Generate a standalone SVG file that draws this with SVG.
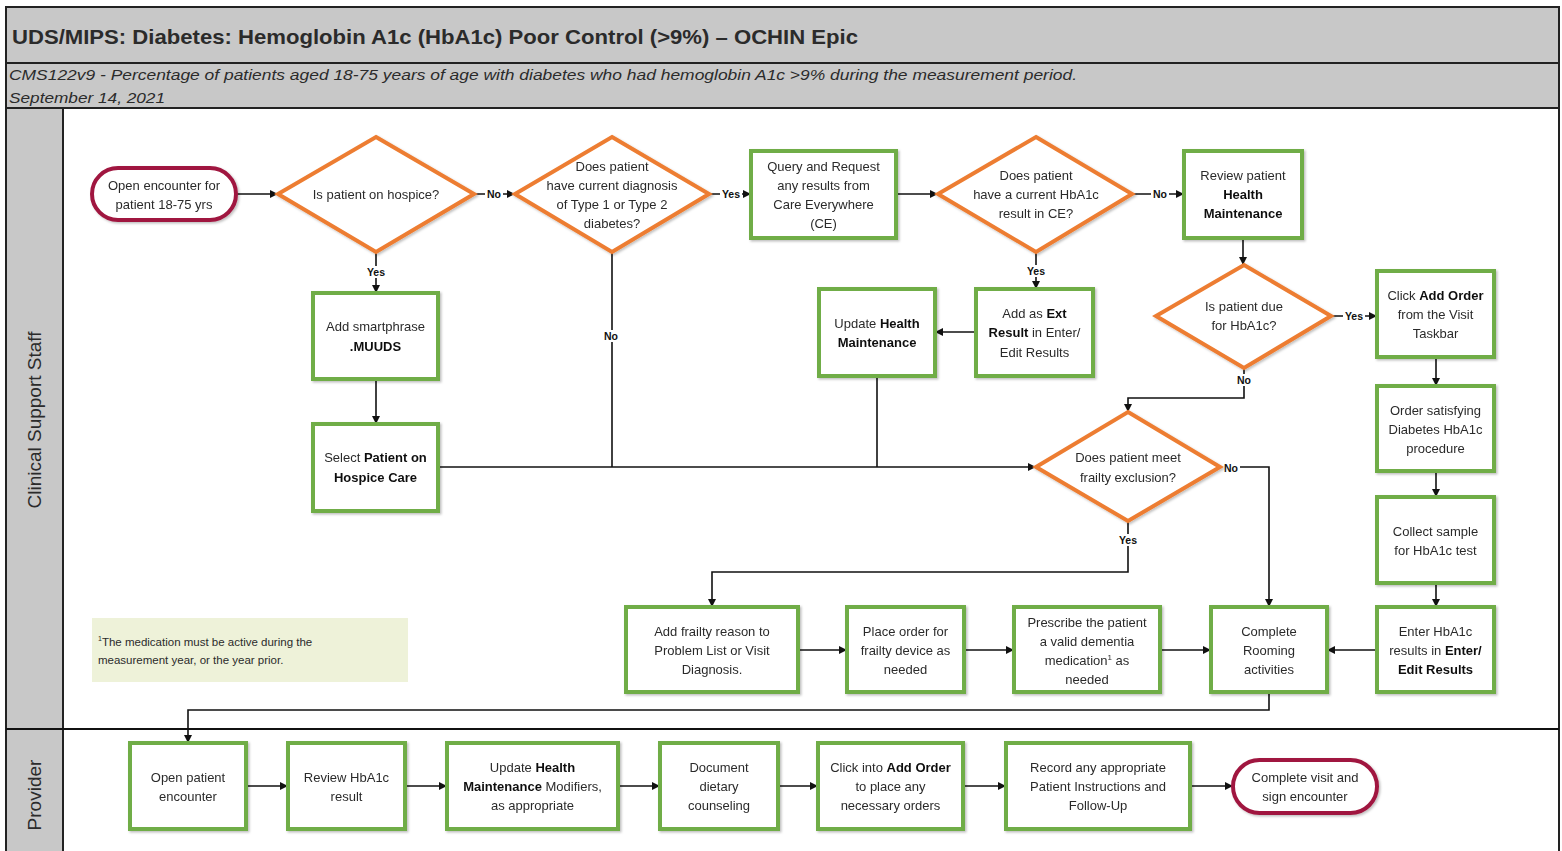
<svg xmlns="http://www.w3.org/2000/svg" width="1562" height="851" viewBox="0 0 1562 851">
<style>
text{font-family:"Liberation Sans",Arial,sans-serif;fill:#2b2b2b}
.t{font-size:13px;text-anchor:middle}
.b{font-weight:bold;fill:#111}
.box{fill:#fff;stroke:#70ad47;stroke-width:4}
.dia{fill:#fff;stroke:#ed7d31;stroke-width:4;stroke-linejoin:miter}
.term{fill:#fff;stroke:#a0173f;stroke-width:4}
.c{fill:none;stroke:#111;stroke-width:1.6}
.lbl{font-size:10.5px;font-weight:bold;text-anchor:middle;fill:#111}
.lb{fill:#fff}
.lane{fill:#c8c8c8;stroke:#222;stroke-width:2}
</style>
<defs>
<marker id="ah" viewBox="0 0 10 10" refX="10" refY="5" markerWidth="8" markerHeight="8" markerUnits="userSpaceOnUse" orient="auto">
<path d="M0,0 L10,5 L0,10 z" fill="#111"/>
</marker>
<filter id="sh" x="-10%" y="-10%" width="125%" height="125%">
<feDropShadow dx="1.5" dy="1.5" stdDeviation="1.2" flood-color="#000" flood-opacity="0.25"/>
</filter>
</defs>
<rect width="1562" height="851" fill="#fff"/>
<g id="frame">
<rect x="6" y="7" width="1553" height="56" class="lane"/>
<rect x="6" y="63" width="1553" height="45" class="lane"/>
<rect x="6" y="108" width="1553" height="750" fill="#fff" stroke="#222" stroke-width="2"/>
<rect x="6" y="108" width="57" height="750" class="lane"/>
<line x1="6" y1="729" x2="1559" y2="729" stroke="#111" stroke-width="2"/>
<text x="12" y="44" font-size="21" font-weight="bold" fill="#111" textLength="846" lengthAdjust="spacingAndGlyphs">UDS/MIPS: Diabetes: Hemoglobin A1c (HbA1c) Poor Control (&gt;9%) – OCHIN Epic</text>
<text x="9" y="80" font-size="15" font-style="italic" fill="#222" textLength="1068" lengthAdjust="spacingAndGlyphs">CMS122v9 - Percentage of patients aged 18-75 years of age with diabetes who had hemoglobin A1c &gt;9% during the measurement period.</text>
<text x="9" y="103" font-size="15" font-style="italic" fill="#222" textLength="156" lengthAdjust="spacingAndGlyphs">September 14, 2021</text>
<text transform="translate(41,420) rotate(-90)" font-size="19" text-anchor="middle" fill="#111">Clinical Support Staff</text>
<text transform="translate(41,795) rotate(-90)" font-size="19" text-anchor="middle" fill="#111">Provider</text>
</g>
<g id="connectors">
<path class="c" d="M236,194 H278" marker-end="url(#ah)"/>
<path class="c" d="M474,194 H515" marker-end="url(#ah)"/>
<path class="c" d="M376,252 V293" marker-end="url(#ah)"/>
<path class="c" d="M376,379 V424" marker-end="url(#ah)"/>
<path class="c" d="M438,467 H1036" marker-end="url(#ah)"/>
<path class="c" d="M612,252 V467"/>
<path class="c" d="M709,194 H751" marker-end="url(#ah)"/>
<path class="c" d="M896,194 H938" marker-end="url(#ah)"/>
<path class="c" d="M1132,194 H1184" marker-end="url(#ah)"/>
<path class="c" d="M1036,252 V289" marker-end="url(#ah)"/>
<path class="c" d="M976,332 H935" marker-end="url(#ah)"/>
<path class="c" d="M877,376 V467"/>
<path class="c" d="M1243,238 V265" marker-end="url(#ah)"/>
<path class="c" d="M1331,316 H1377" marker-end="url(#ah)"/>
<path class="c" d="M1244,368 V398 H1128 V412" marker-end="url(#ah)"/>
<path class="c" d="M1436,357 V386" marker-end="url(#ah)"/>
<path class="c" d="M1436,471 V497" marker-end="url(#ah)"/>
<path class="c" d="M1436,583 V607" marker-end="url(#ah)"/>
<path class="c" d="M1377,650 H1327" marker-end="url(#ah)"/>
<path class="c" d="M1220,467 H1269 V607" marker-end="url(#ah)"/>
<path class="c" d="M1128,521 V572 H712 V607" marker-end="url(#ah)"/>
<path class="c" d="M798,650 H847" marker-end="url(#ah)"/>
<path class="c" d="M964,650 H1014" marker-end="url(#ah)"/>
<path class="c" d="M1160,650 H1211" marker-end="url(#ah)"/>
<path class="c" d="M1269,692 V710 H188 V743" marker-end="url(#ah)"/>
<path class="c" d="M246,786 H288" marker-end="url(#ah)"/>
<path class="c" d="M405,786 H447" marker-end="url(#ah)"/>
<path class="c" d="M618,786 H660" marker-end="url(#ah)"/>
<path class="c" d="M778,786 H818" marker-end="url(#ah)"/>
<path class="c" d="M963,786 H1006" marker-end="url(#ah)"/>
<path class="c" d="M1190,786 H1233" marker-end="url(#ah)"/>
<rect class="lb" x="485" y="188" width="18" height="12"/><text class="lbl" x="494" y="198">No</text>
<rect class="lb" x="365" y="266" width="22" height="12"/><text class="lbl" x="376" y="276">Yes</text>
<rect class="lb" x="602" y="330" width="20" height="12"/><text class="lbl" x="611" y="340">No</text>
<rect class="lb" x="720" y="188" width="22" height="12"/><text class="lbl" x="731" y="198">Yes</text>
<rect class="lb" x="1151" y="188" width="18" height="12"/><text class="lbl" x="1160" y="198">No</text>
<rect class="lb" x="1025" y="265" width="22" height="12"/><text class="lbl" x="1036" y="275">Yes</text>
<rect class="lb" x="1343" y="310" width="22" height="12"/><text class="lbl" x="1354" y="320">Yes</text>
<rect class="lb" x="1235" y="374" width="18" height="12"/><text class="lbl" x="1244" y="384">No</text>
<rect class="lb" x="1222" y="462" width="18" height="12"/><text class="lbl" x="1231" y="472">No</text>
<rect class="lb" x="1117" y="534" width="22" height="12"/><text class="lbl" x="1128" y="544">Yes</text>
</g>
<g id="n_start" filter="url(#sh)"><rect class="term" x="92" y="168" width="144" height="52" rx="26"/><text class="t" x="164"><tspan x="164" y="189.5">Open encounter for</tspan><tspan x="164" y="208.5">patient 18-75 yrs</tspan></text></g>
<g id="n_hospice" filter="url(#sh)"><polygon class="dia" points="376,137 474,194 376,252 278,194"/><text class="t" x="376" y="198.5">Is patient on hospice?</text></g>
<g id="n_diag" filter="url(#sh)"><polygon class="dia" points="612,137 709,194 612,252 515,194"/><text class="t"><tspan x="612" y="170.5">Does patient</tspan><tspan x="612" y="189.5">have current diagnosis</tspan><tspan x="612" y="208.5">of Type 1 or Type 2</tspan><tspan x="612" y="228">diabetes?</tspan></text></g>
<g id="n_query" filter="url(#sh)"><rect class="box" x="751" y="151" width="145" height="87"/><text class="t"><tspan x="823.5" y="170.5">Query and Request</tspan><tspan x="823.5" y="189.5">any results from</tspan><tspan x="823.5" y="208.5">Care Everywhere</tspan><tspan x="823.5" y="228">(CE)</tspan></text></g>
<g id="n_hasce" filter="url(#sh)"><polygon class="dia" points="1036,137 1132,194 1036,252 938,194"/><text class="t"><tspan x="1036" y="179.5">Does patient</tspan><tspan x="1036" y="198.5">have a current HbA1c</tspan><tspan x="1036" y="217.5">result in CE?</tspan></text></g>
<g id="n_review" filter="url(#sh)"><rect class="box" x="1184" y="151" width="118" height="87"/><text class="t"><tspan x="1243" y="179.5">Review patient</tspan><tspan x="1243" y="198.5" class="b">Health</tspan><tspan x="1243" y="218" class="b">Maintenance</tspan></text></g>
<g id="n_due" filter="url(#sh)"><polygon class="dia" points="1244,265 1331,316 1244,368 1156,316"/><text class="t"><tspan x="1244" y="310.5">Is patient due</tspan><tspan x="1244" y="329.5">for HbA1c?</tspan></text></g>
<g id="n_addorder" filter="url(#sh)"><rect class="box" x="1377" y="271" width="117" height="86"/><text class="t"><tspan x="1435.5" y="299.5">Click <tspan class="b">Add Order</tspan></tspan><tspan x="1435.5" y="318.5">from the Visit</tspan><tspan x="1435.5" y="337.5">Taskbar</tspan></text></g>
<g id="n_ordersat" filter="url(#sh)"><rect class="box" x="1377" y="386" width="117" height="85"/><text class="t"><tspan x="1435.5" y="414.5">Order satisfying</tspan><tspan x="1435.5" y="433.5">Diabetes HbA1c</tspan><tspan x="1435.5" y="452.5">procedure</tspan></text></g>
<g id="n_collect" filter="url(#sh)"><rect class="box" x="1377" y="497" width="117" height="86"/><text class="t"><tspan x="1435.5" y="535.5">Collect sample</tspan><tspan x="1435.5" y="554.5">for HbA1c test</tspan></text></g>
<g id="n_enter" filter="url(#sh)"><rect class="box" x="1377" y="607" width="117" height="85"/><text class="t"><tspan x="1435.5" y="635.5">Enter HbA1c</tspan><tspan x="1435.5" y="654.5">results in <tspan class="b">Enter/</tspan></tspan><tspan x="1435.5" y="674" class="b">Edit Results</tspan></text></g>
<g id="n_smart" filter="url(#sh)"><rect class="box" x="313" y="293" width="125" height="86"/><text class="t"><tspan x="375.5" y="330.5">Add smartphrase</tspan><tspan x="375.5" y="350.5" class="b">.MUUDS</tspan></text></g>
<g id="n_select" filter="url(#sh)"><rect class="box" x="313" y="424" width="125" height="87"/><text class="t"><tspan x="375.5" y="461.5">Select <tspan class="b">Patient on</tspan></tspan><tspan x="375.5" y="481.5" class="b">Hospice Care</tspan></text></g>
<g id="n_updhm" filter="url(#sh)"><rect class="box" x="819" y="289" width="116" height="87"/><text class="t"><tspan x="877" y="327.5">Update <tspan class="b">Health</tspan></tspan><tspan x="877" y="346.5" class="b">Maintenance</tspan></text></g>
<g id="n_ext" filter="url(#sh)"><rect class="box" x="976" y="289" width="117" height="87"/><text class="t"><tspan x="1034.5" y="317.5">Add as <tspan class="b">Ext</tspan></tspan><tspan x="1034.5" y="336.5"><tspan class="b">Result</tspan> in Enter/</tspan><tspan x="1034.5" y="356.5">Edit Results</tspan></text></g>
<g id="n_frailty" filter="url(#sh)"><polygon class="dia" points="1128,412 1220,467 1128,521 1036,467"/><text class="t"><tspan x="1128" y="461.5">Does patient meet</tspan><tspan x="1128" y="481.5">frailty exclusion?</tspan></text></g>
<g id="n_addfrail" filter="url(#sh)"><rect class="box" x="626" y="607" width="172" height="85"/><text class="t"><tspan x="712" y="635.5">Add frailty reason to</tspan><tspan x="712" y="654.5">Problem List or Visit</tspan><tspan x="712" y="674">Diagnosis.</tspan></text></g>
<g id="n_device" filter="url(#sh)"><rect class="box" x="847" y="607" width="117" height="85"/><text class="t"><tspan x="905.5" y="635.5">Place order for</tspan><tspan x="905.5" y="654.5">frailty device as</tspan><tspan x="905.5" y="674">needed</tspan></text></g>
<g id="n_dementia" filter="url(#sh)"><rect class="box" x="1014" y="607" width="146" height="85"/><text class="t"><tspan x="1087" y="626.5">Prescribe the patient</tspan><tspan x="1087" y="645.5">a valid dementia</tspan><tspan x="1087" y="664.5">medication<tspan font-size="8" dy="-5">1</tspan><tspan dy="5"> as</tspan></tspan><tspan x="1087" y="683.5">needed</tspan></text></g>
<g id="n_rooming" filter="url(#sh)"><rect class="box" x="1211" y="607" width="116" height="85"/><text class="t"><tspan x="1269" y="635.5">Complete</tspan><tspan x="1269" y="654.5">Rooming</tspan><tspan x="1269" y="674">activities</tspan></text></g>
<g id="note"><rect x="92" y="618" width="316" height="64" fill="#eef2d9"/><text font-size="11.5" fill="#333"><tspan x="98" y="646"><tspan font-size="7" dy="-5">1</tspan><tspan dy="5">The medication must be active during the</tspan></tspan><tspan x="98" y="664">measurement year, or the year prior.</tspan></text></g>
<g id="p_open" filter="url(#sh)"><rect class="box" x="130" y="743" width="116" height="86"/><text class="t"><tspan x="188" y="781.5">Open patient</tspan><tspan x="188" y="800.5">encounter</tspan></text></g>
<g id="p_review" filter="url(#sh)"><rect class="box" x="288" y="743" width="117" height="86"/><text class="t"><tspan x="346.5" y="781.5">Review HbA1c</tspan><tspan x="346.5" y="800.5">result</tspan></text></g>
<g id="p_updhm" filter="url(#sh)"><rect class="box" x="447" y="743" width="171" height="86"/><text class="t"><tspan x="532.5" y="771.5">Update <tspan class="b">Health</tspan></tspan><tspan x="532.5" y="790.5"><tspan class="b">Maintenance</tspan> Modifiers,</tspan><tspan x="532.5" y="810">as appropriate</tspan></text></g>
<g id="p_diet" filter="url(#sh)"><rect class="box" x="660" y="743" width="118" height="86"/><text class="t"><tspan x="719" y="771.5">Document</tspan><tspan x="719" y="790.5">dietary</tspan><tspan x="719" y="810">counseling</tspan></text></g>
<g id="p_order" filter="url(#sh)"><rect class="box" x="818" y="743" width="145" height="86"/><text class="t"><tspan x="890.5" y="771.5">Click into <tspan class="b">Add Order</tspan></tspan><tspan x="890.5" y="790.5">to place any</tspan><tspan x="890.5" y="810">necessary orders</tspan></text></g>
<g id="p_record" filter="url(#sh)"><rect class="box" x="1006" y="743" width="184" height="86"/><text class="t"><tspan x="1098" y="771.5">Record any appropriate</tspan><tspan x="1098" y="790.5">Patient Instructions and</tspan><tspan x="1098" y="810">Follow-Up</tspan></text></g>
<g id="p_end" filter="url(#sh)"><rect class="term" x="1233" y="760" width="144" height="53" rx="26.5"/><text class="t"><tspan x="1305" y="781.5">Complete visit and</tspan><tspan x="1305" y="800.5">sign encounter</tspan></text></g>
</svg>
